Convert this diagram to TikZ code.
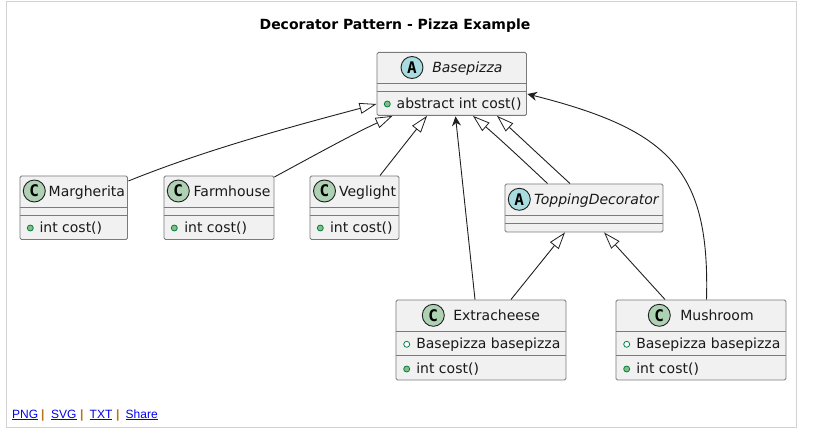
\documentclass[tikz,border=0pt]{standalone}
\usepackage{fontspec}
\setmainfont{DejaVu Sans}
\newfontfamily\linkfont{Liberation Sans}
\newfontfamily\monobold{DejaVu Sans Mono}[BoldFont={DejaVu Sans Mono Bold}]
\usetikzlibrary{arrows.meta,calc}
\definecolor{boxfill}{HTML}{F1F1F1}
\definecolor{boxline}{HTML}{7A7A7A}
\definecolor{conn}{HTML}{202020}
\definecolor{ccirc}{HTML}{ADD1B2}
\definecolor{acirc}{HTML}{A9DCDF}
\definecolor{dotfill}{HTML}{84BE84}
\definecolor{dotline}{HTML}{038048}
\definecolor{linkblue}{HTML}{0000EE}
\definecolor{sepcol}{HTML}{B8741A}
\definecolor{framecol}{HTML}{D2D2D2}
\tikzset{
  umlbox/.style={draw=boxline,fill=boxfill,line width=0.9pt,rounded corners=1.5pt,anchor=north west,inner sep=0pt,minimum width=#1},
  divider/.style={draw=boxline,line width=0.9pt},
  txt/.style={anchor=base west,inner sep=0pt,outer sep=0pt,text=black!90,font=\fontsize{14}{16}\selectfont},
  ititle/.style={txt,font=\fontsize{14}{16}\selectfont\itshape},
  icon/.style={circle,draw=conn,line width=0.9pt,minimum size=22pt,inner sep=0pt,font=\monobold\bfseries\fontsize{16}{16}\selectfont},
  cicon/.style={icon,fill=ccirc},
  aicon/.style={icon,fill=acirc},
  pub/.style={circle,draw=dotline,fill=dotfill,line width=0.8pt,minimum size=6pt,inner sep=0pt},
  pubopen/.style={circle,draw=dotline,fill=white,line width=0.8pt,minimum size=6pt,inner sep=0pt},
  inherit/.style={draw=conn,line width=0.9pt,-{Triangle[length=17pt,width=11pt,fill=white,line width=0.8pt]}},
  assoc/.style={draw=conn,line width=0.9pt,-{Stealth[length=9.5pt,width=9pt,inset=3pt]}},
  lnk/.style={anchor=base west,inner sep=0pt,text=linkblue,font=\linkfont\fontsize{12}{14}\selectfont},
  lsep/.style={anchor=base west,inner sep=0pt,text=sepcol,font=\linkfont\bfseries\fontsize{12}{14}\selectfont},
}
\begin{document}
\begin{tikzpicture}[x=1pt,y=-1pt]
\useasboundingbox (0,0) rectangle (815,428);
\fill[white] (0,0) rectangle (815,428);
\foreach \r/\k in {419/1,420/2,421/3,422/4,423/6,424/8,425/10,426/13}{
  \shade[left color=white,middle color=black!\k,right color=white,shading angle=90,draw=none]
    (40,\r) rectangle (500,\r+1);
}
\coordinate (frameTL) at (6.5,1.5);
\coordinate (frameBR) at (796.5,427);
\draw[framecol,line width=1pt] (frameTL) rectangle (frameBR);
\node[anchor=base,inner sep=0pt,font=\bfseries\fontsize{14}{16}\selectfont] (title) at (395,30) {Decorator Pattern - Pizza Example};

% boxes
\node[umlbox=149.5pt,minimum height=63pt] (base) at (376.5,52) {};
\node[umlbox=107.5pt,minimum height=63.5pt] (marg) at (19.5,175.5) {};
\node[umlbox=110pt,minimum height=63.5pt] (farm) at (163.5,175.5) {};
\node[umlbox=89pt,minimum height=63.5pt] (veg) at (309.5,175.5) {};
\node[umlbox=158pt,minimum height=48pt] (top) at (504.5,183.5) {};
\node[umlbox=170pt,minimum height=80pt] (extra) at (395.5,299.5) {};
\node[umlbox=170pt,minimum height=80pt] (mush) at (615.5,299.5) {};

% dividers
\draw[divider] ($(base.north west)+(0,31.5)$) -- ($(base.north east)+(0,31.5)$);
\draw[divider] ($(base.north west)+(0,39)$) -- ($(base.north east)+(0,39)$);
\foreach \b in {marg,farm,veg}{
  \draw[divider] ($(\b.north west)+(0,31.5)$) -- ($(\b.north east)+(0,31.5)$);
  \draw[divider] ($(\b.north west)+(0,39.5)$) -- ($(\b.north east)+(0,39.5)$);
}
\draw[divider] ($(top.north west)+(0,32)$) -- ($(top.north east)+(0,32)$);
\draw[divider] ($(top.north west)+(0,39.5)$) -- ($(top.north east)+(0,39.5)$);
\foreach \b in {extra,mush}{
  \draw[divider] ($(\b.north west)+(0,32)$) -- ($(\b.north east)+(0,32)$);
  \draw[divider] ($(\b.north west)+(0,56)$) -- ($(\b.north east)+(0,56)$);
}

% icons and labels
\node[aicon] (baseI) at (412,67.5) {A};
\node[ititle] (baseT) at (432.3,72.5) {Basepizza};
\node[pub] (baseD) at (387.3,104) {};
\node[txt] (baseM) at (396.7,109) {abstract int cost()};

\node[cicon] (margI) at (34.3,191) {C};
\node[txt] (margT) at (48.7,196) {Margherita};
\node[pub] (margD) at (30.3,228) {};
\node[txt] (margM) at (39.5,232.5) {int cost()};

\node[cicon] (farmI) at (178.3,191) {C};
\node[txt] (farmT) at (193.7,196) {Farmhouse};
\node[pub] (farmD) at (174.3,228) {};
\node[txt] (farmM) at (184.3,232.5) {int cost()};

\node[cicon] (vegI) at (324.5,191) {C};
\node[txt] (vegT) at (339,196) {Veglight};
\node[pub] (vegD) at (320.3,228) {};
\node[txt] (vegM) at (330,232.5) {int cost()};

\node[aicon] (topI) at (519.3,199.3) {A};
\node[ititle] (topT) at (534,204.3) {ToppingDecorator};

\node[cicon] (extraI) at (433.3,315.3) {C};
\node[txt] (extraT) at (453.3,320.3) {Extracheese};
\node[pubopen] (extraF) at (406.7,344.3) {};
\node[txt] (extraA) at (416.3,348.5) {Basepizza basepizza};
\node[pub] (extraD) at (406.7,369) {};
\node[txt] (extraM) at (416.3,373.3) {int cost()};

\node[cicon] (mushI) at (659.3,315.3) {C};
\node[txt] (mushT) at (680.3,320.3) {Mushroom};
\node[pubopen] (mushF) at (626.7,344.3) {};
\node[txt] (mushA) at (636.3,348.5) {Basepizza basepizza};
\node[pub] (mushD) at (626.7,369) {};
\node[txt] (mushM) at (636.3,373.3) {int cost()};

% connectors
\draw[inherit] ($(marg.north east)+(0.5,5.5)$) .. controls (205,150) and (290,127) .. ($(base.north west)+(0,52)$);
\draw[inherit] ($(farm.north east)+(0,1.5)$) .. controls (315,155) and (355,133) .. ($(base.south west)+(16,0)$);
\draw[inherit] ($(veg.north west)+(70.5,0)$) -- ($(base.south west)+(50.5,0)$);
\draw[assoc] ($(extra.north west)+(79.5,0)$) -- ($(base.south west)+(79,0.5)$);
\draw[inherit] ($(top.north west)+(43,0)$) .. controls (530,167) and (500,139) .. ($(base.south west)+(96.5,0)$);
\draw[inherit] ($(top.north west)+(65.5,0)$) .. controls (552,167) and (522,139) .. ($(base.south west)+(120.5,0)$);
\draw[inherit] ($(extra.north west)+(115.5,0)$) -- ($(top.south west)+(60.5,0)$);
\draw[inherit] ($(mush.north west)+(49.5,0)$) -- ($(top.south west)+(99.5,0)$);
\draw[assoc] ($(mush.north west)+(91,0)$) .. controls (710,170) and (670,130) .. ($(base.north east)+(0.5,42)$);

% footer links
\node[lnk] (png) at (12,418) {\underline{PNG}};
\node[lsep] (s1) at (41,418) {|};
\node[lnk] (svg) at (51,418) {\underline{SVG}};
\node[lsep] (s2) at (80,418) {|};
\node[lnk] (txtl) at (89.5,418) {\underline{TXT}};
\node[lsep] (s3) at (116,418) {|};
\node[lnk] (share) at (125.5,418) {\underline{Share}};
\end{tikzpicture}
\end{document}
